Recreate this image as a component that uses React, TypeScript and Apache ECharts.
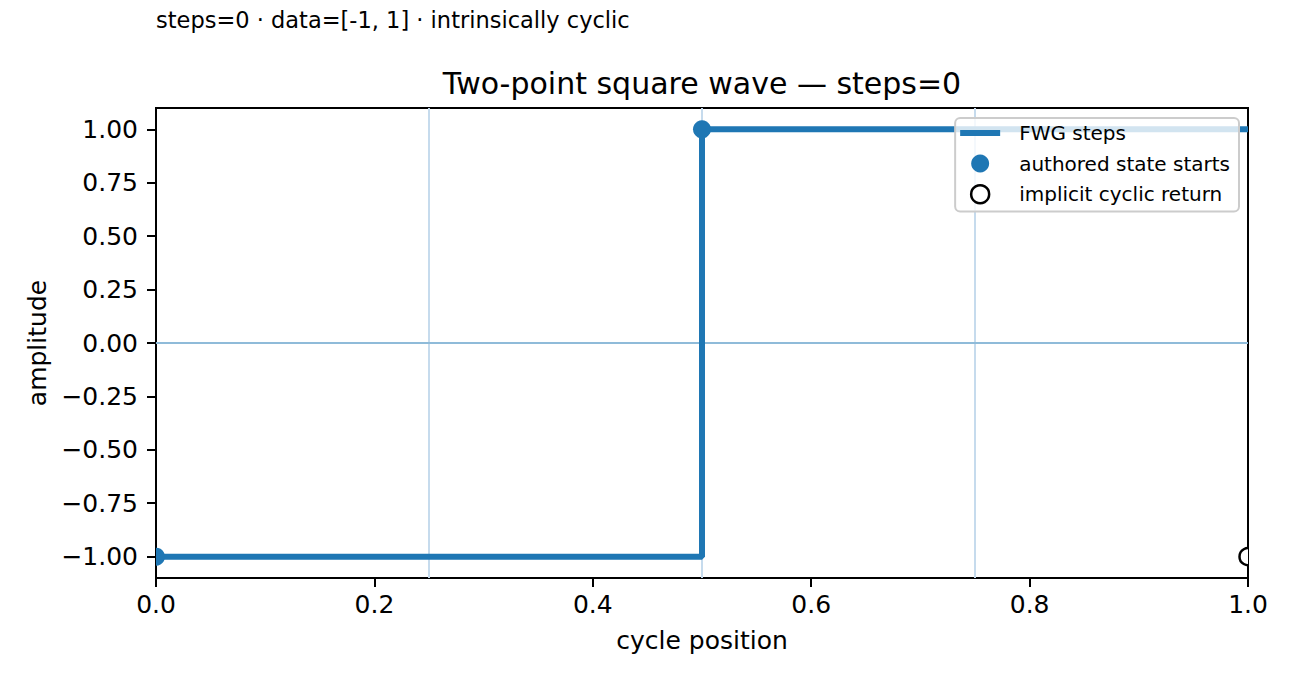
import React, { useEffect, useRef } from "react";
import * as echarts from "echarts";

// ---- data ----
const stateStarts = [0, 0.5];
const stateValues = [-1, 1];
const cycleEnd = 1;
const phaseGuides = [0.25, 0.5, 0.75];
const zeroLevel = 0;
const yTicks = [-1, -0.75, -0.5, -0.25, 0, 0.25, 0.5, 0.75, 1];
const yRange = [-1.1, 1.1];
const xRange = [0, 1];
const xInterval = 0.2;

const titleText = "Two-point square wave \u2014 steps=0";
const subtitleText = "steps=0 \u00b7 data=[-1, 1] \u00b7 intrinsically cyclic";

const BLUE = "#1f77b4";
const FONT = "DejaVu Sans";

export default function App() {
  const ref = useRef<HTMLDivElement>(null);
  useEffect(() => {
    document.body.style.margin = "0";
    if (!ref.current) return;
    const chart = echarts.init(ref.current, null, { renderer: "svg" });

    const stepData = stateStarts.map((x, i) => [x, stateValues[i]]);
    stepData.push([cycleEnd, stateValues[stateValues.length - 1]]);
    const startsData = stateStarts.map((x, i) => [x, stateValues[i]]);
    const returnData = [[cycleEnd, stateValues[0]]];

    const guideSeries = phaseGuides.map((g, i) => ({
      type: "line",
      name: "guide" + i,
      data: [
        [g, yRange[0]],
        [g, yRange[1]],
      ],
      symbol: "none",
      lineStyle: { color: "#c6dbed", width: 2 },
      silent: true,
      z: 1,
    }));

    const circle = (r: number, style: any) => (params: any, api: any) => {
      const p = api.coord([api.value(0), api.value(1)]);
      return { type: "circle", shape: { cx: p[0], cy: p[1], r }, style };
    };

    const fmtY = (v: number) =>
      (v < 0 ? "\u2212" : "") + Math.abs(v).toFixed(2);

    chart.setOption({
      animation: false,
      textStyle: { fontFamily: FONT, color: "#000" },
      grid: {
        left: 156,
        top: 108,
        width: 1092,
        height: 470,
        show: true,
        borderColor: "#000",
        borderWidth: 2,
        backgroundColor: "transparent",
      },
      graphic: [
        {
          type: "text",
          x: 156,
          y: 20,
          style: {
            text: subtitleText,
            fontFamily: FONT,
            fontSize: 22.5,
            fill: "#000",
            textVerticalAlign: "middle",
          },
        },
        {
          type: "text",
          x: 702,
          y: 83,
          style: {
            text: titleText,
            fontFamily: FONT,
            fontSize: 30,
            fill: "#000",
            textAlign: "center",
            textVerticalAlign: "middle",
          },
        },
      ],
      xAxis: {
        type: "value",
        min: xRange[0],
        max: xRange[1],
        interval: xInterval,
        name: "cycle position",
        nameLocation: "middle",
        nameGap: 50,
        nameTextStyle: { fontFamily: FONT, fontSize: 25, color: "#000" },
        axisLine: { show: false, onZero: false },
        axisTick: { show: true, length: 9, lineStyle: { color: "#000", width: 2 } },
        axisLabel: {
          fontFamily: FONT,
          fontSize: 25,
          color: "#000",
          margin: 14,
          formatter: (v: number) => v.toFixed(1),
        },
        splitLine: { show: false },
      },
      yAxis: {
        type: "value",
        min: yRange[0],
        max: yRange[1],
        name: "amplitude",
        nameLocation: "middle",
        nameGap: 103,
        nameTextStyle: { fontFamily: FONT, fontSize: 25, color: "#000" },
        axisLine: { show: false, onZero: false },
        axisTick: {
          show: true,
          length: 9,
          customValues: yTicks,
          lineStyle: { color: "#000", width: 2 },
        },
        axisLabel: {
          fontFamily: FONT,
          fontSize: 25,
          color: "#000",
          margin: 18,
          customValues: yTicks,
          formatter: fmtY,
        },
        splitLine: { show: false },
      },
      legend: {
        orient: "vertical",
        right: 57,
        top: 118,
        itemWidth: 40,
        itemHeight: 18,
        itemGap: 10.5,
        padding: [5, 9, 7, 5],
        backgroundColor: "rgba(255,255,255,0.8)",
        borderColor: "#cccccc",
        borderWidth: 2,
        borderRadius: 5,
        textStyle: {
          fontFamily: FONT,
          fontSize: 20,
          color: "#000",
          lineHeight: 20,
          padding: [0, 0, 0, 14],
        },
        data: [
          {
            name: "FWG steps",
            icon: "path://M0,0 L40,0 L40,6 L0,6 Z",
            itemStyle: { color: BLUE, borderWidth: 0 },
          },
          { name: "authored state starts", icon: "circle", itemStyle: { color: BLUE } },
          {
            name: "implicit cyclic return",
            icon: "circle",
            itemStyle: { color: "#fff", borderColor: "#000", borderWidth: 2.5 },
          },
        ],
      },
      series: [
        ...guideSeries,
        {
          type: "line",
          name: "zero",
          data: [
            [xRange[0], zeroLevel],
            [xRange[1], zeroLevel],
          ],
          symbol: "none",
          lineStyle: { color: "#8fbbd9", width: 2 },
          silent: true,
          z: 1,
        },
        {
          type: "line",
          name: "FWG steps",
          data: stepData,
          step: "end",
          symbol: "none",
          showSymbol: false,
          lineStyle: { color: BLUE, width: 6 },
          itemStyle: { color: BLUE },
          clip: true,
          z: 3,
        },
        {
          type: "custom",
          name: "authored state starts",
          data: startsData,
          clip: true,
          itemStyle: { color: BLUE },
          renderItem: circle(9, { fill: BLUE }),
          z: 4,
        },
        {
          type: "custom",
          name: "implicit cyclic return",
          data: returnData,
          clip: true,
          itemStyle: { color: "#fff", borderColor: "#000", borderWidth: 2.5 },
          renderItem: circle(8.5, { fill: "#fff", stroke: "#000", lineWidth: 2.5 }),
          z: 4,
        },
      ],
    });
    return () => chart.dispose();
  }, []);
  return <div ref={ref} style={{ width: 1296, height: 684 }} />;
}
